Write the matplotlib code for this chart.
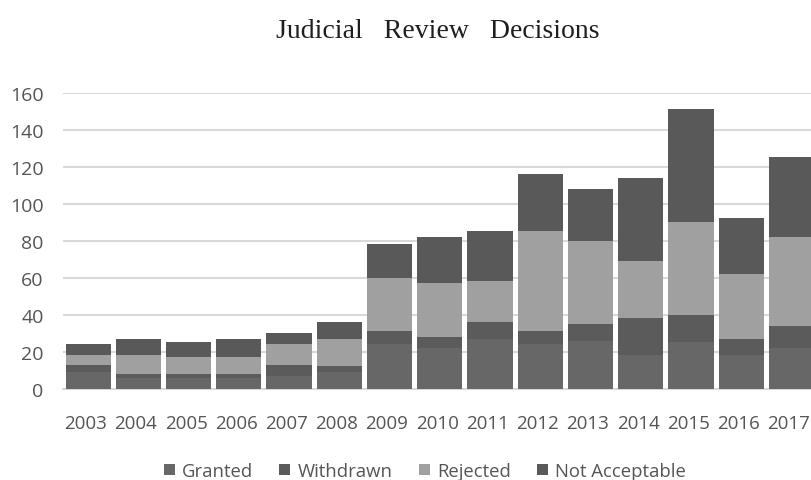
import numpy as np
import matplotlib.pyplot as plt
import matplotlib.transforms as mtransforms
from matplotlib.patches import Patch

years = ['2003', '2004', '2005', '2006', '2007', '2008', '2009', '2010',
         '2011', '2012', '2013', '2014', '2015', '2016', '2017']
granted = [9, 6, 6, 6, 7, 9, 24, 22, 27, 24, 26, 18, 25, 18, 22]
withdrawn = [4, 2, 2, 2, 6, 3, 7, 6, 9, 7, 9, 20, 15, 9, 12]
rejected = [5, 10, 9, 9, 11, 15, 29, 29, 22, 54, 45, 31, 50, 35, 48]
not_acceptable = [6, 9, 8, 10, 6, 9, 18, 25, 27, 31, 28, 45, 61, 30, 43]

labels = ['Granted', 'Withdrawn', 'Rejected', 'Not Acceptable']
colors = ['#676767', '#5b5b5b', '#a0a0a0', '#595959']

fig = plt.figure(figsize=(8.12, 4.81), dpi=100)
# plot area runs a bit past the right edge, like the cropped original
ax = fig.add_axes([0.0776, 0.190, 0.928, 0.6154])

x = np.arange(len(years))
bottom = np.zeros(len(years))
for vals, lab, col in zip([granted, withdrawn, rejected, not_acceptable], labels, colors):
    ax.bar(x, vals, width=0.9, bottom=bottom, color=col, label=lab, zorder=3)
    bottom += np.array(vals)

ax.set_xlim(-0.5, len(years) - 0.5)
ax.set_ylim(0, 160)
ax.set_yticks(range(0, 161, 20))
ax.set_xticks(x)
ax.set_xticklabels(years)

ax.grid(axis='y', color='#d9d9d9', linewidth=1.5, zorder=0)
for s in ['top', 'right', 'left']:
    ax.spines[s].set_visible(False)
ax.spines['bottom'].set_color('#d9d9d9')
ax.spines['bottom'].set_linewidth(1.5)
ax.tick_params(axis='both', length=0, colors='#555555', labelsize=14)
ax.tick_params(axis='x', labelsize=13.5, pad=18)
ax.tick_params(axis='y', pad=14)
shift = mtransforms.ScaledTranslation(-2.5 / 100, 0, fig.dpi_scale_trans)
for t in ax.get_xticklabels():
    t.set_fontfamily('Open Sans')
    t.set_transform(t.get_transform() + shift)
for t in ax.get_yticklabels():
    t.set_fontfamily('Open Sans')

fig.text(438 / 812, 1 - 38 / 481, 'Judicial   Review   Decisions', ha='center', va='baseline',
         fontsize=20, family='Liberation Serif', color='#1e1e1e')

handles = [Patch(facecolor=c) for c in colors]
fig.legend(handles, labels, loc='center', bbox_to_anchor=(425 / 812, 9 / 481), ncol=4,
           frameon=False, handlelength=0.6, handleheight=0.6, handletextpad=0.4,
           columnspacing=1.4, prop={'family': 'Open Sans', 'size': 13.3},
           labelcolor='#555555')

fig.savefig('out.png', dpi=100)
